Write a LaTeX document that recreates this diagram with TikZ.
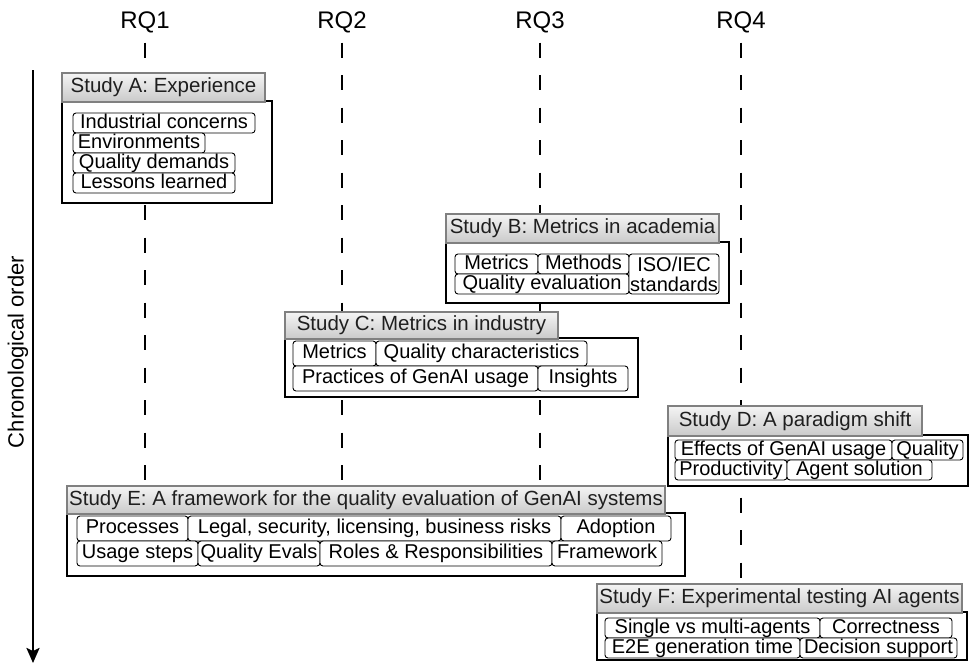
\documentclass[tikz,border=0pt]{standalone}
\usepackage{fontspec}
\setmainfont{Liberation Sans}
\usetikzlibrary{arrows.meta}
\pgfdeclarelayer{background}
\pgfsetlayers{background,main}
\begin{document}
\begin{tikzpicture}[x=1pt,y=-1pt,
  every node/.style={outer sep=0pt},
  rq/.style={font=\fontsize{24}{26}\selectfont, inner sep=0pt},
  rqline/.style={line width=1.6pt, dash pattern=on 15pt off 17.5pt, shorten <=10pt},
  timeline/.style={line width=2.5pt, -{Stealth[length=15pt,width=13pt,inset=3pt]}},
  body/.style={draw=black, line width=1.8pt, fill=white, anchor=north west, inner sep=0pt},
  head/.style={draw=black!50, line width=1.2pt, top color=gray!8, bottom color=gray!42,
    anchor=south west, minimum height=29pt, inner sep=0pt,
    text height=15pt, text depth=4.3pt,
    font=\fontsize{20.5}{22}\selectfont, text=black!88},
  item/.style={draw=black, line width=0.9pt, rounded corners=3pt, fill=white,
    anchor=north west, inner sep=0pt, text height=14.6pt, text depth=4.2pt,
    font=\fontsize{20}{22}\selectfont},
  row/.style={minimum height=#1},
]
\useasboundingbox (0,0) rectangle (971,665);

% research questions
\node[rq] (rq1) at (145,22) {RQ1};
\node[rq] (rq2) at (342,22) {RQ2};
\node[rq] (rq3) at (540,22) {RQ3};
\node[rq] (rq4) at (741,22) {RQ4};

% time axis
\coordinate (tTop) at (33,70);
\coordinate (tBot) at (33,663);
\node[rotate=90, font=\fontsize{22}{24}\selectfont, inner sep=0pt] (tlabel) at (18,352) {Chronological order};

% Study A
\node[body, minimum width=210pt, minimum height=102pt] (bA) at (62,101) {};
\node[head, minimum width=203pt] (hA) at ([yshift=-0.9pt]bA.north west) {Study A: Experience};
\node[item, row=20pt, minimum width=182pt] (a1) at (73,113) {Industrial concerns};
\node[item, row=20pt, minimum width=132pt] (a2) at (a1.south west) {Environments};
\node[item, row=20pt, minimum width=162pt] (a3) at (a2.south west) {Quality demands};
\node[item, row=20pt, minimum width=162pt] (a4) at (a3.south west) {Lessons learned};

% Study B
\node[body, minimum width=283pt, minimum height=61pt] (bB) at (446,242) {};
\node[head, minimum width=273pt] (hB) at ([yshift=-0.9pt]bB.north west) {Study B: Metrics in academia};
\node[item, row=20pt, minimum width=83pt] (b1) at (455,254) {Metrics};
\node[item, row=20pt, minimum width=91pt] (b2) at (b1.north east) {Methods};
\node[item, row=20pt, minimum width=174pt] (b3) at (b1.south west) {Quality evaluation};
\node[item, row=40pt, minimum width=90pt, align=center, text height=, text depth=,
  font=\fontsize{20}{20}\selectfont] (b4) at (b2.north east) {ISO/IEC\\standards};

% Study C
\node[body, minimum width=353pt, minimum height=59pt] (bC) at (285,338) {};
\node[head, minimum width=273pt, minimum height=27pt] (hC) at ([yshift=-0.9pt]bC.north west) {Study C: Metrics in industry};
\node[item, row=25pt, minimum width=83pt] (c1) at (293,341) {Metrics};
\node[item, row=25pt, minimum width=211pt] (c2) at (c1.north east) {Quality characteristics};
\node[item, row=25pt, minimum width=245pt] (c3) at (c1.south west) {Practices of GenAI usage};
\node[item, row=25pt, minimum width=90pt] (c4) at (c3.north east) {Insights};

% Study D
\node[body, minimum width=300pt, minimum height=51pt] (bD) at (668,435) {};
\node[head, minimum width=254pt, minimum height=30pt] (hD) at ([yshift=-0.9pt]bD.north west) {Study D: A paradigm shift};
\node[item, row=20pt, minimum width=217pt] (d1) at (675,440) {Effects of GenAI usage};
\node[item, row=20pt, minimum width=71pt] (d2) at (d1.north east) {Quality};
\node[item, row=20pt, minimum width=112pt] (d3) at (d1.south west) {Productivity};
\node[item, row=20pt, minimum width=145pt] (d4) at (d3.north east) {Agent solution};

% Study E
\node[body, minimum width=618pt, minimum height=63pt] (bE) at (67,513) {};
\node[head, minimum width=598pt, minimum height=28pt] (hE) at ([yshift=-0.9pt]bE.north west) {Study E: A framework for the quality evaluation of GenAI systems};
\node[item, row=25pt, minimum width=111pt] (e1) at (77,516) {Processes};
\node[item, row=25pt, minimum width=373pt] (e2) at (e1.north east) {Legal, security, licensing, business risks};
\node[item, row=25pt, minimum width=110pt] (e3) at (e2.north east) {Adoption};
\node[item, row=25pt, minimum width=121pt] (e4) at (e1.south west) {Usage steps};
\node[item, row=25pt, minimum width=122pt] (e5) at (e4.north east) {Quality Evals};
\node[item, row=25pt, minimum width=232pt] (e6) at (e5.north east) {Roles \& Responsibilities};
\node[item, row=25pt, minimum width=110pt] (e7) at (e6.north east) {Framework};

% Study F
\node[body, minimum width=370pt, minimum height=48pt] (bF) at (597,612) {};
\node[head, minimum width=365pt] (hF) at ([yshift=-0.9pt]bF.north west) {Study F: Experimental testing AI agents};
\node[item, row=20pt, minimum width=215pt] (f1) at (605,618) {Single vs multi-agents};
\node[item, row=20pt, minimum width=132pt] (f2) at (f1.north east) {Correctness};
\node[item, row=20pt, minimum width=195pt] (f3) at (f1.south west) {E2E generation time};
\node[item, row=20pt, minimum width=157pt] (f4) at (f3.north east) {Decision support};

\begin{pgfonlayer}{background}
  \draw[rqline] (rq1.south) -- (rq1.south |- hE.north);
  \draw[rqline] (rq2.south) -- (rq2.south |- hE.north);
  \draw[rqline] (rq3.south) -- (rq3.south |- hE.north);
  \draw[rqline] (rq4.south) -- (rq4.south |- hF.north);
  \draw[timeline] (tTop) -- (tBot);
\end{pgfonlayer}
\end{tikzpicture}
\end{document}
